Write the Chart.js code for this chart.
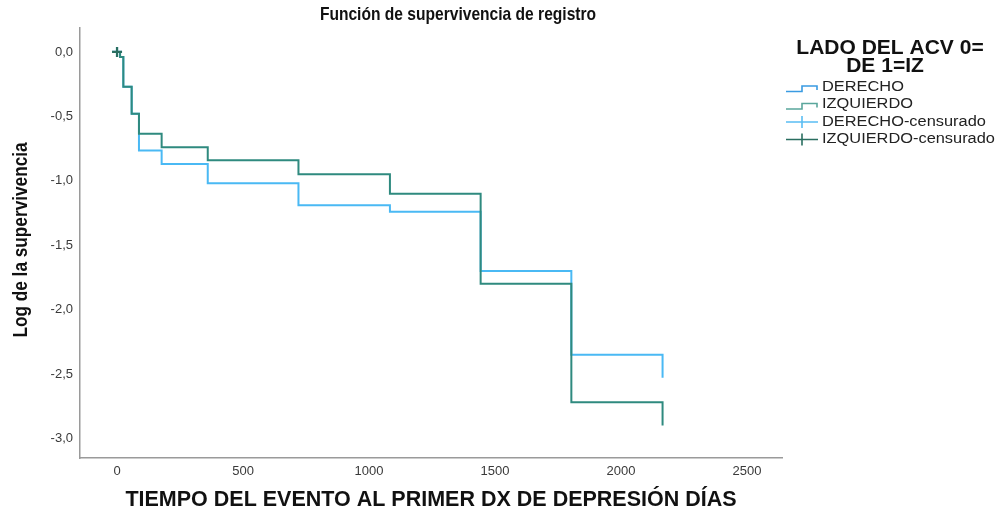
<!DOCTYPE html>
<html>
<head>
<meta charset="utf-8">
<script src="https://cdn.jsdelivr.net/npm/chart.js@4.4.1/dist/chart.umd.min.js"></script>
<style>
  html, body { margin: 0; padding: 0; background: #ffffff; }
  #wrap { width: 1001px; height: 516px; position: relative; }
</style>
</head>
<body>
<div id="wrap"><canvas id="c" width="1001" height="516"></canvas></div>
<script>
// Log survival (Kaplan-Meier) by stroke side
const groupLabels = ['DERECHO', 'IZQUIERDO'];
const censorLabels = ['DERECHO-censurado', 'IZQUIERDO-censurado'];
const stepDays = [0, 12, 25, 58, 87, 177, 360, 720, 1083, 1443, 1803, 2165];
const logSurvDerecho = [0, -0.04, -0.27, -0.48, -0.765, -0.87, -1.02, -1.19, -1.24, -1.70, -2.35, -2.53];
const logSurvIzquierdo = [0, -0.04, -0.27, -0.48, -0.635, -0.74, -0.84, -0.95, -1.10, -1.80, -2.72, -2.90];
const censorDays = [0];
const censorDerecho = [0];
const censorIzquierdo = [0];
const xTickValues = [0, 500, 1000, 1500, 2000, 2500];
const yTickValues = [0, -0.5, -1, -1.5, -2, -2.5, -3];

const chartTitle = 'Función de supervivencia de registro';
const yTitle = 'Log de la supervivencia';
const xTitle = 'TIEMPO DEL EVENTO AL PRIMER DX DE DEPRESIÓN DÍAS';
const legendTitle = ['LADO DEL ACV 0=', 'DE 1=IZ'];

const BLUE = '#4ab9f4';
const GREEN = '#2f8a7f';
const BLUE_ICON = '#3a9be2';
const GREEN_ICON = '#5aa69c';
const BLUE_CENS = '#5abdf3';
const GREEN_CENS = '#2a6e60';

const toPoints = (xs, ys) => xs.map((x, i) => ({ x: x, y: ys[i] }));

// narrow bold text: regular bold face squeezed horizontally
function narrowText(ctx, text, x, y, size, sx, rot) {
  ctx.save();
  ctx.translate(x, y);
  if (rot) ctx.rotate(rot);
  ctx.scale(sx, 1);
  ctx.font = 'bold ' + size + 'px "Liberation Sans", Arial, sans-serif';
  ctx.textAlign = 'center';
  ctx.textBaseline = 'middle';
  ctx.fillStyle = '#111';
  ctx.fillText(text, 0, 0);
  ctx.restore();
}

const decorations = {
  id: 'decorations',
  afterDraw(chart) {
    const ctx = chart.ctx;
    narrowText(ctx, chartTitle, 458, 15, 19, 0.82, 0);
    narrowText(ctx, yTitle, 21, 240, 21, 0.82, -Math.PI / 2);

    // legend
    ctx.save();
    ctx.fillStyle = '#111';
    ctx.font = 'bold 21px "Liberation Sans", Arial, sans-serif';
    ctx.textAlign = 'center';
    ctx.textBaseline = 'middle';
    ctx.fillText(legendTitle[0], 890, 48);
    ctx.fillText(legendTitle[1], 885, 66);

    const rows = [87, 104.5, 122, 139.5];
    const items = [
      { label: groupLabels[0], color: BLUE_ICON, kind: 'step' },
      { label: groupLabels[1], color: GREEN_ICON, kind: 'step' },
      { label: censorLabels[0], color: BLUE_CENS, kind: 'cens' },
      { label: censorLabels[1], color: GREEN_CENS, kind: 'cens' }
    ];
    items.forEach((it, i) => {
      const y = rows[i];
      ctx.strokeStyle = it.color;
      ctx.lineWidth = 1.6;
      ctx.beginPath();
      if (it.kind === 'step') {
        ctx.moveTo(786, y + 4.5);
        ctx.lineTo(802, y + 4.5);
        ctx.lineTo(802, y - 1);
        ctx.lineTo(817, y - 1);
        ctx.lineTo(817, y + 3);
      } else {
        ctx.moveTo(786, y);
        ctx.lineTo(818, y);
        ctx.moveTo(802, y - 6);
        ctx.lineTo(802, y + 6);
      }
      ctx.stroke();
      ctx.save();
      ctx.translate(822, y);
      ctx.scale(1.17, 1);
      ctx.fillStyle = '#222';
      ctx.font = '14px "Liberation Sans", Arial, sans-serif';
      ctx.textAlign = 'left';
      ctx.textBaseline = 'middle';
      ctx.fillText(it.label, 0, 0);
      ctx.restore();
    });
    ctx.restore();
  }
};

new Chart(document.getElementById('c'), {
  type: 'line',
  data: {
    datasets: [
      {
        label: censorLabels[1], type: 'scatter', order: 0,
        data: toPoints(censorDays, censorIzquierdo),
        pointStyle: 'cross', pointRadius: 5, borderColor: GREEN_CENS, borderWidth: 2.2, showLine: false
      },
      {
        label: censorLabels[0], type: 'scatter', order: 1,
        data: toPoints(censorDays, censorDerecho),
        pointStyle: 'cross', pointRadius: 5, borderColor: BLUE_CENS, borderWidth: 2.2, showLine: false
      },
      {
        label: groupLabels[1], order: 2,
        data: toPoints(stepDays, logSurvIzquierdo),
        stepped: true, borderColor: GREEN, borderWidth: 2, pointRadius: 0, fill: false
      },
      {
        label: groupLabels[0], order: 3,
        data: toPoints(stepDays, logSurvDerecho),
        stepped: true, borderColor: BLUE, borderWidth: 2, pointRadius: 0, fill: false
      }
    ]
  },
  options: {
    responsive: false,
    animation: false,
    events: [],
    layout: { padding: { top: 28, right: 219, left: 0, bottom: 0 } },
    plugins: { legend: { display: false }, title: { display: false }, tooltip: { enabled: false } },
    scales: {
      x: {
        type: 'linear', min: -147, max: 2639,
        afterBuildTicks: s => { s.ticks = xTickValues.map(v => ({ value: v })); },
        afterFit: s => { s.height = 58; },
        grid: { display: true, drawOnChartArea: false, drawTicks: false },
        border: { display: true, color: '#9a9a9a', width: 1.5 },
        ticks: {
          autoSkip: false, maxRotation: 0, padding: 6, color: '#3a3a3a',
          font: { family: '"Liberation Sans", Arial, sans-serif', size: 13 },
          callback: v => String(v)
        },
        title: {
          display: true, text: xTitle, color: '#111',
          font: { family: '"Liberation Sans", Arial, sans-serif', size: 21.5, weight: 'bold' },
          padding: { top: 0, bottom: 3 }
        }
      },
      y: {
        type: 'linear', min: -3.152, max: 0.186,
        afterBuildTicks: s => { s.ticks = yTickValues.map(v => ({ value: v })); },
        afterFit: s => { s.width = 80; },
        grid: { display: true, drawOnChartArea: false, drawTicks: false },
        border: { display: true, color: '#9a9a9a', width: 1.5 },
        ticks: {
          autoSkip: false, padding: 7, color: '#3a3a3a',
          font: { family: '"Liberation Sans", Arial, sans-serif', size: 13 },
          callback: v => (Math.abs(v) < 1e-9 ? 0 : v).toFixed(1).replace('.', ',')
        }
      }
    }
  },
  plugins: [decorations]
});
</script>
</body>
</html>
